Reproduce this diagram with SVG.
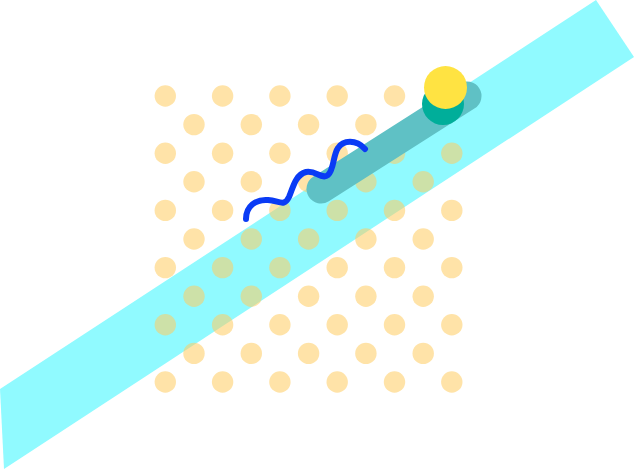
<svg xmlns="http://www.w3.org/2000/svg" width="634" height="470" viewBox="0 0 634 470">
<defs>
<style>
.dot{fill:#FFCC61;fill-opacity:0.55}
</style>
<circle id="d" r="10.7" class="dot"/>
</defs>
<rect width="634" height="470" fill="#FFFFFF"/>
<polygon id="band" points="0,389 596,0 634,57 4,469" fill="#90FAFF"/>
<g id="dots">
<g id="row-even">
<use href="#d" x="165.3" y="96"/><use href="#d" x="222.6" y="96"/><use href="#d" x="279.9" y="96"/><use href="#d" x="337.2" y="96"/><use href="#d" x="394.5" y="96"/><use href="#d" x="451.8" y="96"/>
<use href="#d" x="165.3" y="153.2"/><use href="#d" x="222.6" y="153.2"/><use href="#d" x="279.9" y="153.2"/><use href="#d" x="337.2" y="153.2"/><use href="#d" x="394.5" y="153.2"/><use href="#d" x="451.8" y="153.2"/>
<use href="#d" x="165.3" y="210.4"/><use href="#d" x="222.6" y="210.4"/><use href="#d" x="279.9" y="210.4"/><use href="#d" x="337.2" y="210.4"/><use href="#d" x="394.5" y="210.4"/><use href="#d" x="451.8" y="210.4"/>
<use href="#d" x="165.3" y="267.6"/><use href="#d" x="222.6" y="267.6"/><use href="#d" x="279.9" y="267.6"/><use href="#d" x="337.2" y="267.6"/><use href="#d" x="394.5" y="267.6"/><use href="#d" x="451.8" y="267.6"/>
<use href="#d" x="165.3" y="324.8"/><use href="#d" x="222.6" y="324.8"/><use href="#d" x="279.9" y="324.8"/><use href="#d" x="337.2" y="324.8"/><use href="#d" x="394.5" y="324.8"/><use href="#d" x="451.8" y="324.8"/>
<use href="#d" x="165.3" y="382"/><use href="#d" x="222.6" y="382"/><use href="#d" x="279.9" y="382"/><use href="#d" x="337.2" y="382"/><use href="#d" x="394.5" y="382"/><use href="#d" x="451.8" y="382"/>
</g>
<g id="row-odd">
<use href="#d" x="194" y="124.6"/><use href="#d" x="251.3" y="124.6"/><use href="#d" x="308.6" y="124.6"/><use href="#d" x="365.9" y="124.6"/><use href="#d" x="423.2" y="124.6"/>
<use href="#d" x="194" y="181.8"/><use href="#d" x="251.3" y="181.8"/><use href="#d" x="308.6" y="181.8"/><use href="#d" x="365.9" y="181.8"/><use href="#d" x="423.2" y="181.8"/>
<use href="#d" x="194" y="239"/><use href="#d" x="251.3" y="239"/><use href="#d" x="308.6" y="239"/><use href="#d" x="365.9" y="239"/><use href="#d" x="423.2" y="239"/>
<use href="#d" x="194" y="296.2"/><use href="#d" x="251.3" y="296.2"/><use href="#d" x="308.6" y="296.2"/><use href="#d" x="365.9" y="296.2"/><use href="#d" x="423.2" y="296.2"/>
<use href="#d" x="194" y="353.4"/><use href="#d" x="251.3" y="353.4"/><use href="#d" x="308.6" y="353.4"/><use href="#d" x="365.9" y="353.4"/><use href="#d" x="423.2" y="353.4"/>
</g>
</g>
<line id="bar" x1="321" y1="189" x2="467" y2="96" stroke="#5FC1C5" stroke-width="29" stroke-linecap="round"/>
<circle id="teal-ball" cx="443" cy="104" r="21" fill="#00AE9A"/>
<circle id="yellow-ball" cx="445.5" cy="87.5" r="21.5" fill="#FFE342"/>
<path id="wave" d="M246,219 C246,206 256,199 268,200 C280,201 284,207 289,197 C293,188 295,175 306,172 C316,170 322,180 328,175 C334,170 333,155 338,148 C343,140 356,139 365,149" fill="none" stroke="#0A3BF5" stroke-width="6" stroke-linecap="round"/>
</svg>
